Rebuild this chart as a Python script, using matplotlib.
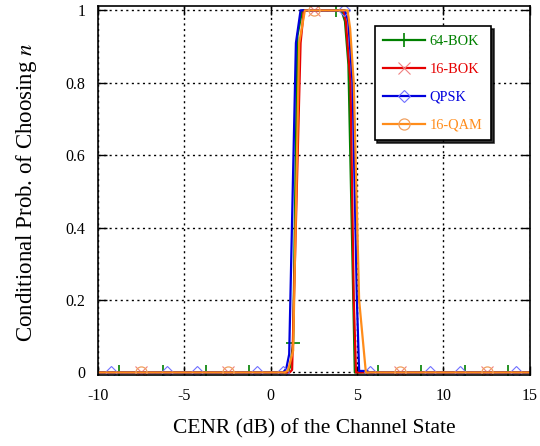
import matplotlib.pyplot as plt

plt.rcParams['font.family'] = ['Liberation Serif', 'DejaVu Serif']
plt.rcParams['mathtext.fontset'] = 'stix'
plt.rcParams['axes.unicode_minus'] = False

# 64-BOK
bok64_x = [-10, -8.77, -6.26, -3.75, -1.24, 1.0, 1.15, 1.30, 1.55, 1.82, 3.77, 4.10, 4.30, 4.50, 4.87, 6.22, 8.73, 11.24, 13.74, 15]
bok64_y = [0, 0, 0, 0, 0, 0, 0.02, 0.08, 0.93, 1, 1, 1, 0.97, 0.85, 0, 0, 0, 0, 0, 0]
bok64_marks = [1, 2, 3, 4, 7, 10, 15, 16, 17, 18]

# 16-BOK
bok16_x = [-10, -7.5, -2.5, 1.10, 1.24, 1.73, 1.92, 2.5, 4.20, 4.35, 4.62, 4.81, 4.94, 7.5, 12.5, 15]
bok16_y = [0, 0, 0, 0, 0.007, 0.91, 1, 1, 1, 0.97, 0.8, 0.2, 0, 0, 0, 0]
bok16_marks = [1, 2, 7, 13, 14]

# QPSK
qpsk_x = [-10, -9.27, -5.99, -4.26, -0.78, 0.72, 0.90, 1.07, 1.46, 1.73, 4.24, 4.30, 4.49, 4.74, 4.99, 5.12, 5.55, 5.74, 9.21, 10.95, 14.23, 15]
qpsk_y = [0, 0, 0, 0, 0, 0, 0.01, 0.05, 0.91, 1, 1, 1, 0.97, 0.8, 0.2, 0.004, 0.004, 0, 0, 0, 0, 0]
qpsk_marks = [1, 2, 3, 4, 5, 10, 17, 18, 19, 20]

# 16-QAM
qam16_x = [-10, -7.5, -2.5, 0.80, 1.0, 1.30, 1.65, 1.98, 2.5, 4.45, 4.60, 4.81, 5.12, 5.51, 7.5, 12.5, 15]
qam16_y = [0, 0, 0, 0, 0.005, 0.06, 0.91, 1, 1, 1, 0.95, 0.8, 0.2, 0, 0, 0, 0]
qam16_marks = [1, 2, 8, 14, 15]

fig = plt.figure(figsize=(5.4, 4.46), dpi=100)
ax = fig.add_axes([0.1815, 0.1585, 0.7995, 0.828])

ax.plot(bok64_x, bok64_y, color='#008000', lw=1.6, marker='+', ms=10, mew=1.2,
        markevery=bok64_marks, label='64-BOK')
ax.plot(bok16_x, bok16_y, color='#e60000', lw=1.6, marker='x', ms=8, mew=0.8,
        mec='#f08080', markevery=bok16_marks, label='16-BOK')
ax.plot(qpsk_x, qpsk_y, color='#0000dd', lw=1.6, marker='D', ms=6, mew=0.8,
        mfc='none', mec='#7070ff', markevery=qpsk_marks, label='QPSK')
ax.plot(qam16_x, qam16_y, color='#ff8c1a', lw=1.6, marker='o', ms=8, mew=0.9,
        mfc='none', mec='#f0a060', markevery=qam16_marks, label='16-QAM')

ax.set_xlim(-10, 15)
ax.set_ylim(-0.008, 1.012)
ax.set_xticks([-10, -5, 0, 5, 10, 15])
ax.set_yticks([0, 0.2, 0.4, 0.6, 0.8, 1])
ax.set_yticklabels(['0', '0.2', '0.4', '0.6', '0.8', '1'])
ax.tick_params(direction='in', length=6.5, width=1, top=True, right=True,
               labelsize=11.5, pad=9)
ax.grid(True, color='black', linestyle=(0, (1.5, 2.5)), linewidth=1)
for s in ax.spines.values():
    s.set_linewidth(1.2)

ax.set_xlabel('CENR (dB) of the Channel State', fontsize=15.5, labelpad=11)
ax.set_ylabel('Conditional Prob. of Choosing $n$', fontsize=16.5)
ax.yaxis.set_label_coords(-0.136, 0.495)

leg = ax.legend(loc='upper right', bbox_to_anchor=(0.91, 0.945), fontsize=10.4,
                fancybox=False, shadow={'ox': 2, 'oy': -2, 'color': 'black', 'alpha': 0.8},
                edgecolor='black', framealpha=1,
                handlelength=2.9, labelspacing=1.02, borderpad=0.6,
                handletextpad=0.3, borderaxespad=0)
leg.get_frame().set_linewidth(1.2)
for t, l in zip(leg.get_texts(), leg.get_lines()):
    t.set_color(l.get_color())

plt.savefig('out.png', dpi=100)
